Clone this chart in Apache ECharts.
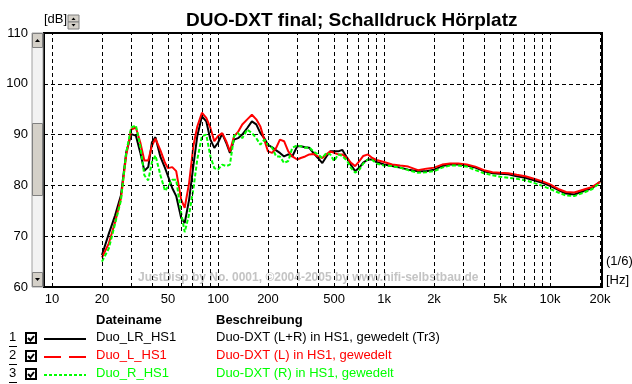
<!DOCTYPE html>
<html><head><meta charset="utf-8">
<script src="https://cdn.jsdelivr.net/npm/echarts@6/dist/echarts.min.js"></script>
<style>html,body{margin:0;padding:0;background:#fff}#c{width:632px;height:384px}</style>
</head><body><div id="c"></div>
<script>
// ---- data ----
const freqs = [20,22,24,26,28,30,32,34,36,38,40,42,45,48,50,53,56,60,63,67,71,75,80,85,90,95,100,106,112,118,125,132,140,150,160,170,180,190,200,212,224,236,250,265,280,300,315,335,355,375,400,425,450,475,500,530,560,600,630,670,710,750,800,850,900,1000,1120,1250,1400,1600,1800,2000,2240,2500,2800,3150,3550,4000,4500,5000,5600,6300,7100,8000,9000,10000,11200,12500,14000,16000,18000,20000];
const dbLR = [66.3,70.5,74.1,78,86.5,90.1,89.8,86.5,82.9,83.6,88.5,89.5,85.6,83.4,81.8,79.5,77.9,73.6,72.6,77.2,83.8,89.7,93.6,92.6,89,87.4,88.4,90.2,88.4,86.4,89,89.3,90,91.3,92.6,92,90.3,89.3,88,87.5,86.9,86.4,85.7,86.1,85.7,87.7,87.7,87.5,87.4,86.4,85.4,84.4,85.7,86.7,86.7,86.7,87,85.4,84.1,82.8,83.5,84.5,85.1,85.1,84.6,84.1,83.8,83.5,83.1,82.8,82.8,83.1,83.8,84.1,84.1,83.9,83.5,82.8,82.4,82.3,82.2,81.8,81.5,81,80.5,79.9,79.1,78.4,78.2,78.9,79.5,80.7];
const dbL = [65.8,68.6,72.8,77.4,85.9,91,91.4,88.5,84.9,84.9,87.8,89.2,86.9,84.4,83.4,83.6,82.8,77.2,75.6,80.5,87.7,91.6,94.3,93.3,91.3,88.7,89.7,90.3,88.7,86.7,89.7,90.5,92,93,93.9,93,91.6,89,86.7,86.4,87.4,89,88.7,86.7,85.7,85.1,85.4,85.7,86.1,86.2,85.7,85.4,86.1,86.7,86.4,86.1,86.1,85.4,84.5,83.8,84.8,85.8,86.1,85.4,85,84.6,84.1,83.9,83.7,83,83.3,83.5,84.1,84.3,84.3,84.1,83.7,83,82.6,82.5,82.4,82.1,81.8,81.3,80.8,80.2,79.3,78.7,78.6,79.2,79.7,80.7];
const dbR = [65,67.6,72.5,77,86.5,91.4,91.8,87.8,82,81,84.6,85.9,82,78.9,79.8,81.1,81.1,74.6,70.8,74.3,79.2,85.1,89.7,90,85.7,83.4,83.1,84.1,83.8,84.1,89.7,90.3,89.3,91,90.3,89.3,88,89,88,87.4,85.7,85.7,84.4,84.8,87.4,87.9,87.7,87.4,87.5,86.7,86.1,85.4,86.4,86.1,84.8,86.1,85.8,84.8,83.5,82.5,83.1,84.3,85.1,85,84.3,83.9,83.8,83.5,83,82.5,82.6,82.8,83.5,83.9,83.9,83.7,83,82.4,82,81.7,81.5,81.3,81,80.5,79.9,79.3,78.6,78,77.9,78.6,79.3,80.5];
const gridFreqs = [10,20,30,40,50,60,70,80,90,100,200,300,400,500,600,700,800,900,1000,2000,3000,4000,5000,6000,7000,8000,9000,10000,20000];
const labelFreqs = [10,20,50,100,200,500,1000,2000,5000,10000,20000];
const labelTexts = ['10','20','50','100','200','500','1k','2k','5k','10k','20k'];
const fileNames = ['Duo_LR_HS1','Duo_L_HS1','Duo_R_HS1'];
const descriptions = ['Duo-DXT (L+R) in HS1, gewedelt (Tr3)','Duo-DXT (L) in HS1, gewedelt','Duo-DXT (R) in HS1, gewedelt'];
const titleText = 'DUO-DXT final; Schalldruck Hörplatz';

// ---- chart ----
const FONT = '"Liberation Sans", Arial, sans-serif';
const colors = ['#000000','#ff0000','#00ff00'];
const seriesDb = [dbLR, dbL, dbR];
const plotDash = ['solid','solid',[4,2]];
const legendDash = [null,[17,8],[3,2]];

const markData = gridFreqs.map(f => {
  const k = labelFreqs.indexOf(f);
  return k >= 0 ? {xAxis: f, label: {show: true, formatter: labelTexts[k]}} : {xAxis: f};
});

const series = [{
  type: 'line', data: [], z: 1, silent: true,
  markLine: {
    silent: true, symbol: ['none','none'], animation: false,
    lineStyle: {color: '#000', type: [4,3], width: 1},
    label: {show: false, position: 'start', distance: 6, color: '#000', fontSize: 13, fontFamily: FONT},
    data: markData
  }
}];
seriesDb.forEach((db, i) => {
  series.push({
    type: 'line', name: fileNames[i], z: 2 + i,
    data: freqs.map((f, j) => [f, db[j]]),
    showSymbol: false, symbol: 'none', animation: false,
    lineStyle: {color: colors[i], width: 2, type: plotDash[i]}
  });
});

const graphics = [];
// watermark
graphics.push({type: 'text', left: 138, top: 272, z: 0, silent: true,
  style: {text: 'JustDisp by No. 0001, ©2004-2005 by www.hifi-selbstbau.de', fill: '#c4c4c4', font: 'bold 12px ' + FONT}});
// [dB] label + spin box
graphics.push({type: 'text', left: 44, top: 13, style: {text: '[dB]', fill: '#000', font: '13px ' + FONT}});
graphics.push({type: 'rect', shape: {x: 68, y: 15, width: 11, height: 7}, style: {fill: '#d4d0c8', stroke: '#808080', lineWidth: 1}});
graphics.push({type: 'rect', shape: {x: 68, y: 22, width: 11, height: 7}, style: {fill: '#d4d0c8', stroke: '#808080', lineWidth: 1}});
graphics.push({type: 'polygon', shape: {points: [[71.5,20],[75.5,20],[73.5,17.5]]}, style: {fill: '#000'}});
graphics.push({type: 'polygon', shape: {points: [[71.5,24],[75.5,24],[73.5,26.5]]}, style: {fill: '#000'}});
// scrollbar
graphics.push({type: 'rect', shape: {x: 32, y: 33, width: 11, height: 254}, style: {fill: '#f2f2f2', stroke: '#a0a0a0', lineWidth: 1}});
graphics.push({type: 'rect', shape: {x: 32.5, y: 33.5, width: 10, height: 14}, style: {fill: '#d4d0c8', stroke: '#808080', lineWidth: 1}});
graphics.push({type: 'rect', shape: {x: 32.5, y: 272.5, width: 10, height: 14}, style: {fill: '#d4d0c8', stroke: '#808080', lineWidth: 1}});
graphics.push({type: 'rect', shape: {x: 32.5, y: 123.5, width: 10, height: 72}, style: {fill: '#d4d0c8', stroke: '#808080', lineWidth: 1}});
graphics.push({type: 'polygon', shape: {points: [[35,42],[40,42],[37.5,39]]}, style: {fill: '#000'}});
graphics.push({type: 'polygon', shape: {points: [[35,278],[40,278],[37.5,281]]}, style: {fill: '#000'}});
// right side unit labels
graphics.push({type: 'text', left: 606, top: 255, style: {text: '(1/6)', fill: '#000', font: '13px ' + FONT}});
graphics.push({type: 'text', left: 606, top: 274, style: {text: '[Hz]', fill: '#000', font: '13px ' + FONT}});
// legend table headers
graphics.push({type: 'text', left: 96, top: 314, style: {text: 'Dateiname', fill: '#000', font: 'bold 13px ' + FONT}});
graphics.push({type: 'text', left: 216, top: 314, style: {text: 'Beschreibung', fill: '#000', font: 'bold 13px ' + FONT}});
// legend rows
fileNames.forEach((name, i) => {
  const y = 339 + i * 18;
  graphics.push({type: 'text', left: 9, top: y - 8, style: {text: String(i + 1), fill: '#000', font: '13px ' + FONT}});
  graphics.push({type: 'line', shape: {x1: 9, y1: y + 7.5, x2: 17, y2: y + 7.5}, style: {stroke: '#000', lineWidth: 1}});
  graphics.push({type: 'rect', shape: {x: 26, y: y - 6, width: 10, height: 10}, style: {fill: '#fff', stroke: '#000', lineWidth: 2}});
  graphics.push({type: 'polyline', shape: {points: [[28, y - 1], [30.5, y + 1.5], [34, y - 3]]}, style: {stroke: '#000', lineWidth: 2, fill: null}});
  graphics.push({type: 'line', shape: {x1: 44, y1: y, x2: 86, y2: y}, style: {stroke: colors[i], lineWidth: 2, lineDash: legendDash[i]}});
  graphics.push({type: 'text', left: 96, top: y - 8, style: {text: name, fill: colors[i], font: '13px ' + FONT}});
  graphics.push({type: 'text', left: 216, top: y - 8, style: {text: descriptions[i], fill: colors[i], font: '13px ' + FONT}});
});

const option = {
  backgroundColor: '#fff',
  animation: false,
  title: {text: titleText, left: 181, top: 6,
    textStyle: {fontSize: 19, fontWeight: 'bold', color: '#000', fontFamily: FONT}},
  grid: {left: 44, right: 30, top: 33, bottom: 97, show: true, borderColor: '#000', borderWidth: 2, backgroundColor: 'transparent'},
  xAxis: {type: 'log', logBase: 10, min: 8.95, max: 20560,
    axisLabel: {show: false}, axisTick: {show: false}, splitLine: {show: false}, axisLine: {show: false}, minorTick: {show: false}},
  yAxis: {type: 'value', min: 60, max: 110, interval: 10,
    axisLabel: {color: '#000', fontSize: 13, margin: 16, fontFamily: FONT},
    axisTick: {show: false}, axisLine: {show: false},
    splitLine: {show: true, lineStyle: {color: '#000', type: [4,3], width: 1}}},
  series: series,
  graphic: {elements: graphics}
};
const chart = echarts.init(document.getElementById('c'));
chart.setOption(option);
</script></body></html>
